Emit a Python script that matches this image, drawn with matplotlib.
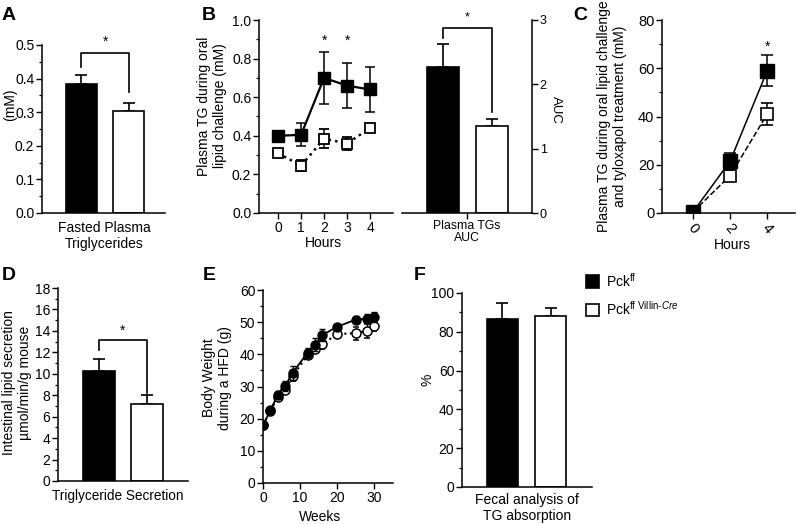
import numpy as np
import matplotlib
matplotlib.use("Agg")
import matplotlib.pyplot as plt
from matplotlib.patches import Patch
from matplotlib.ticker import MultipleLocator

plt.rcParams['font.family'] = ['Liberation Sans', 'DejaVu Sans']
plt.rcParams['mathtext.fontset'] = 'custom'
plt.rcParams['mathtext.rm'] = 'Liberation Sans'
plt.rcParams['mathtext.it'] = 'Liberation Sans:italic'

# data
groups = ['Pck$^{\\mathrm{ff}}$', 'Pck$^{\\mathrm{ff\\ Villin\\text{-}}\\mathit{Cre}}$']

fasted_tg = [0.385, 0.305]
fasted_err = [0.025, 0.023]

hours_b = [0, 1, 2, 3, 4]
tg_ff = [0.40, 0.405, 0.70, 0.66, 0.64]
tg_ff_err = [0.01, 0.06, 0.135, 0.117, 0.115]
tg_cre = [0.31, 0.245, 0.385, 0.36, 0.44]
tg_cre_err = [0.01, 0.028, 0.05, 0.035, 0.012]

auc = [2.27, 1.35]
auc_err = [0.36, 0.11]

hours_c = [0, 2, 4]
tylox_ff = [0.5, 21.5, 59]
tylox_ff_err = [0.5, 3.5, 6.5]
tylox_cre = [0.5, 15.5, 41]
tylox_cre_err = [0.5, 2.0, 4.5]

secretion = [10.3, 7.15]
secretion_err = [1.1, 0.85]

weeks = [0, 2, 4, 6, 8, 12, 14, 16, 20, 25, 28, 30]
bw_ff = [18, 22.6, 27.5, 30.2, 34.3, 40.5, 43.0, 46.0, 48.6, 50.8, 51.1, 51.7]
bw_ff_err = [0.4, 0.6, 1.2, 1.5, 2.2, 1.5, 2.0, 1.8, 0.6, 1.2, 1.3, 1.5]
bw_cre = [18, 22.4, 26.8, 29.0, 33.2, 39.8, 41.6, 43.2, 46.3, 46.6, 47.3, 48.9]
bw_cre_err = [0.4, 0.6, 1.0, 1.2, 1.5, 1.2, 1.2, 1.5, 1.0, 2.0, 2.2, 1.5]

fecal = [86.5, 88.0]
fecal_err = [8.5, 4.5]

W, H = 796, 524
fig = plt.figure(figsize=(W/100, H/100), dpi=100)

def add(l, t, r, b):
    return fig.add_axes([l/W, 1-b/H, (r-l)/W, (b-t)/H])

def style(ax, minor=None):
    for s in ['top', 'right']:
        ax.spines[s].set_visible(False)
    for s in ['left', 'bottom']:
        ax.spines[s].set_linewidth(1.1)
    ax.tick_params(direction='out', length=4, width=1.0, labelsize=10, pad=1.5)
    ax.tick_params(which='minor', direction='out', length=2.2, width=0.9)
    if minor:
        ax.yaxis.set_minor_locator(MultipleLocator(minor))

def ftext(x, y, s, **kw):
    kw.setdefault('ha', 'center')
    kw.setdefault('va', 'center')
    kw.setdefault('fontsize', 10)
    fig.text(x/W, 1-y/H, s, **kw)

def bars(ax, vals, errs, width=0.65):
    x = [0, 1]
    ax.bar(x, vals, width=width, color=['black', 'white'], edgecolor='black', linewidth=1.2, zorder=2)
    ax.errorbar(x, vals, yerr=[[0, 0], errs], fmt='none', ecolor='black',
                elinewidth=1.2, capsize=4, capthick=1.2, zorder=1)
    ax.set_xticks([])

def bracket(ax, ytop, yl, yr):
    ax.plot([0, 0, 1, 1], [yl, ytop, ytop, yr], color='black', lw=1.2, clip_on=False)

# A
ax = add(42, 45, 165, 213)
style(ax, 0.05)
bars(ax, fasted_tg, fasted_err)
ax.set_xlim(-0.83, 1.76)
ax.set_ylim(0, 0.5)
ax.set_yticks(np.arange(0, 0.51, 0.1))
ax.set_yticklabels(['0.0', '0.1', '0.2', '0.3', '0.4', '0.5'])
bracket(ax, 0.476, 0.435, 0.36)
ax.text(0.5, 0.49, '*', ha='center', va='bottom', fontsize=10)
ftext(10, 105, '(mM)', rotation=90)
ftext(104, 236, 'Fasted Plasma\nTriglycerides', linespacing=1.15)

# B line
ax = add(259, 20, 393, 213)
style(ax, 0.1)
ax.errorbar(hours_b, tg_ff, yerr=tg_ff_err, color='black', lw=1.6, marker='s', ms=8.5,
            mfc='black', mec='black', capsize=3.5, elinewidth=1.1, capthick=1.1, zorder=3)
ax.errorbar(hours_b, tg_cre, yerr=tg_cre_err, color='black', lw=1.8, ls=':', marker='s', ms=7,
            mfc='white', mec='black', mew=1.3, capsize=3.5, elinewidth=1.1, capthick=1.1, zorder=2)
ax.set_xlim(-0.83, 5.0)
ax.set_ylim(0, 1.0)
ax.set_xticks(hours_b)
ax.set_yticks(np.arange(0, 1.01, 0.2))
ax.set_yticklabels(['0.0', '0.2', '0.4', '0.6', '0.8', '1.0'])
for h in [2, 3]:
    ax.text(h, 0.855, '*', ha='center', va='bottom', fontsize=10)
ftext(212, 106, 'Plasma TG during oral\nlipid challenge (mM)', rotation=90, linespacing=1.1)
ftext(323, 243, 'Hours')

# B AUC
ax = add(402, 20, 532, 213)
for s in ['top', 'left']:
    ax.spines[s].set_visible(False)
for s in ['right', 'bottom']:
    ax.spines[s].set_linewidth(1.1)
ax.yaxis.tick_right()
ax.tick_params(direction='out', length=4, width=1.0, labelsize=9, pad=1.5)
bars(ax, auc, auc_err)
ax.set_xticks([0.5])
ax.set_xticklabels([''])
ax.set_xlim(-0.84, 1.82)
ax.set_ylim(0, 3)
ax.set_yticks([0, 1, 2, 3])
bracket(ax, 2.88, 2.72, 1.57)
ax.text(0.5, 2.95, '*', ha='center', va='bottom', fontsize=9)
ftext(556, 110, 'AUC', rotation=270, fontsize=9.5)
ftext(467, 232, 'Plasma TGs\nAUC', fontsize=8.8, linespacing=1.1)

# C
ax = add(662, 20, 795, 213)
style(ax, 10)
ax.errorbar(hours_c, tylox_ff, yerr=tylox_ff_err, color='black', lw=1.1, marker='s', ms=10,
            mfc='black', mec='black', capsize=4, elinewidth=1.1, capthick=1.1, zorder=3)
ax.errorbar(hours_c, tylox_cre, yerr=tylox_cre_err, color='black', lw=1.1, ls='--', marker='s', ms=9,
            mfc='white', mec='black', mew=1.2, capsize=4, elinewidth=1.1, capthick=1.1, zorder=2)
ax.set_xlim(-1.68, 5.5)
ax.set_ylim(0, 80)
ax.set_xticks(hours_c)
ax.set_xticklabels(['0', '2', '4'], rotation=-50, fontsize=10.5)
ax.set_yticks([0, 20, 40, 60, 80])
ax.tick_params(axis='y', labelsize=10.5)
ax.text(4, 66, '*', ha='center', va='bottom', fontsize=10)
ftext(612, 116, 'Plasma TG during oral lipid challenge\nand tyloxapol treatment (mM)', rotation=90, linespacing=1.1)
ftext(732, 245, 'Hours')

# D
ax = add(58, 288, 188, 481)
style(ax, 1)
bars(ax, secretion, secretion_err, width=0.67)
ax.set_xlim(-0.85, 1.85)
ax.set_ylim(0, 18)
ax.set_yticks(np.arange(0, 19, 2))
bracket(ax, 13.15, 12.2, 8.2)
ax.text(0.5, 13.4, '*', ha='center', va='bottom', fontsize=10)
ftext(17, 383, 'Intestinal lipid secretion\n\u00b5mol/min/g mouse', rotation=90, linespacing=1.2)
ftext(118, 496, 'Triglyceride Secretion', fontsize=9.8)

# E
ax = add(263, 290, 393, 483)
style(ax, 5)
ax.errorbar(weeks, bw_ff, yerr=bw_ff_err, color='black', lw=1.3, marker='o', ms=6.5,
            mfc='black', mec='black', capsize=2.5, elinewidth=1.0, capthick=1.0, zorder=3)
ax.errorbar(weeks, bw_cre, yerr=bw_cre_err, color='black', lw=1.5, ls=':', marker='o', ms=6.5,
            mfc='white', mec='black', mew=1.1, capsize=2.5, elinewidth=1.0, capthick=1.0, zorder=2)
ax.set_xlim(0, 35)
ax.set_ylim(0, 60)
ax.set_xticks([0, 10, 20, 30])
ax.set_yticks(np.arange(0, 61, 10))
ftext(217, 378, 'Body Weight\nduring a HFD (g)', rotation=90, linespacing=1.15)
ftext(320, 517, 'Weeks')

# F
ax = add(462, 293, 592, 487)
style(ax, 10)
bars(ax, fecal, fecal_err)
ax.set_xlim(-0.84, 1.86)
ax.set_ylim(0, 100)
ax.set_yticks(np.arange(0, 101, 20))
ftext(427, 380, '%', rotation=90)
ftext(527, 508, 'Fecal analysis of\nTG absorption', linespacing=1.1)

# legend
handles = [Patch(facecolor='black', edgecolor='black', lw=1.2),
           Patch(facecolor='white', edgecolor='black', lw=1.2)]
fig.legend(handles, groups, loc='upper left', bbox_to_anchor=(580/W, 1-266/H),
           frameon=False, fontsize=10, handlelength=1.0, handleheight=1.0,
           handletextpad=0.5, labelspacing=0.75, borderaxespad=0)

# panel letters
for x, y, s in [(9, 16, 'A'), (209, 16, 'B'), (580, 16, 'C'),
                (9, 276, 'D'), (209, 276, 'E'), (420, 276, 'F')]:
    ftext(x, y, s, fontsize=14, fontweight='bold')

fig.savefig('out.png', dpi=100)
